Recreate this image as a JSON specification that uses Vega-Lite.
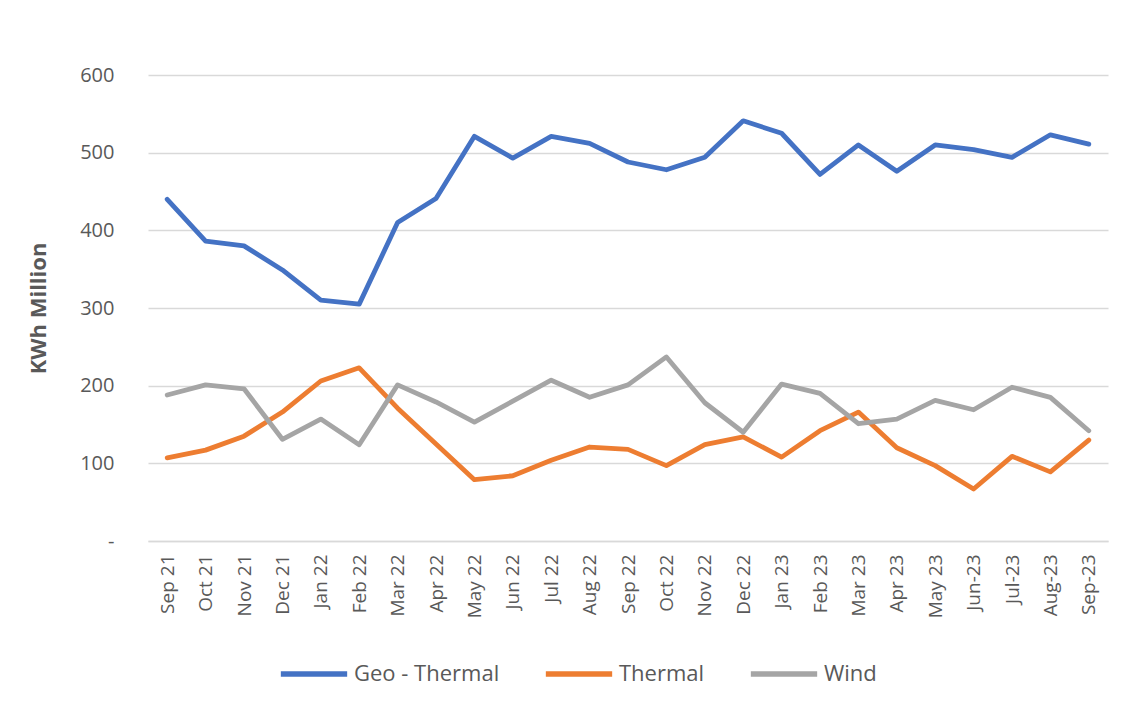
{
  "$schema": "https://vega.github.io/schema/vega-lite/v6.json",
  "autosize": {"type": "none"},
  "width": 960,
  "height": 466,
  "padding": {"left": 148, "top": 75, "right": 22, "bottom": 166},
  "background": "white",
  "data": {"values": [
    {"m":"Sep 21","s":"Geo - Thermal","v":440},{"m":"Oct 21","s":"Geo - Thermal","v":386},{"m":"Nov 21","s":"Geo - Thermal","v":380},{"m":"Dec 21","s":"Geo - Thermal","v":349},{"m":"Jan 22","s":"Geo - Thermal","v":310},{"m":"Feb 22","s":"Geo - Thermal","v":305},{"m":"Mar 22","s":"Geo - Thermal","v":410},{"m":"Apr 22","s":"Geo - Thermal","v":441},{"m":"May 22","s":"Geo - Thermal","v":521},{"m":"Jun 22","s":"Geo - Thermal","v":493},{"m":"Jul 22","s":"Geo - Thermal","v":521},{"m":"Aug 22","s":"Geo - Thermal","v":512},{"m":"Sep 22","s":"Geo - Thermal","v":488},{"m":"Oct 22","s":"Geo - Thermal","v":478},{"m":"Nov 22","s":"Geo - Thermal","v":494},{"m":"Dec 22","s":"Geo - Thermal","v":541},{"m":"Jan 23","s":"Geo - Thermal","v":525},{"m":"Feb 23","s":"Geo - Thermal","v":472},{"m":"Mar 23","s":"Geo - Thermal","v":510},{"m":"Apr 23","s":"Geo - Thermal","v":476},{"m":"May 23","s":"Geo - Thermal","v":510},{"m":"Jun-23","s":"Geo - Thermal","v":504},{"m":"Jul-23","s":"Geo - Thermal","v":494},{"m":"Aug-23","s":"Geo - Thermal","v":523},{"m":"Sep-23","s":"Geo - Thermal","v":511},
    {"m":"Sep 21","s":"Thermal","v":107},{"m":"Oct 21","s":"Thermal","v":117},{"m":"Nov 21","s":"Thermal","v":135},{"m":"Dec 21","s":"Thermal","v":166},{"m":"Jan 22","s":"Thermal","v":206},{"m":"Feb 22","s":"Thermal","v":223},{"m":"Mar 22","s":"Thermal","v":171},{"m":"Apr 22","s":"Thermal","v":125},{"m":"May 22","s":"Thermal","v":79},{"m":"Jun 22","s":"Thermal","v":84},{"m":"Jul 22","s":"Thermal","v":104},{"m":"Aug 22","s":"Thermal","v":121},{"m":"Sep 22","s":"Thermal","v":118},{"m":"Oct 22","s":"Thermal","v":97},{"m":"Nov 22","s":"Thermal","v":124},{"m":"Dec 22","s":"Thermal","v":134},{"m":"Jan 23","s":"Thermal","v":108},{"m":"Feb 23","s":"Thermal","v":142},{"m":"Mar 23","s":"Thermal","v":166},{"m":"Apr 23","s":"Thermal","v":120},{"m":"May 23","s":"Thermal","v":97},{"m":"Jun-23","s":"Thermal","v":67},{"m":"Jul-23","s":"Thermal","v":109},{"m":"Aug-23","s":"Thermal","v":89},{"m":"Sep-23","s":"Thermal","v":130},
    {"m":"Sep 21","s":"Wind","v":188},{"m":"Oct 21","s":"Wind","v":201},{"m":"Nov 21","s":"Wind","v":196},{"m":"Dec 21","s":"Wind","v":131},{"m":"Jan 22","s":"Wind","v":157},{"m":"Feb 22","s":"Wind","v":124},{"m":"Mar 22","s":"Wind","v":201},{"m":"Apr 22","s":"Wind","v":179},{"m":"May 22","s":"Wind","v":153},{"m":"Jun 22","s":"Wind","v":180},{"m":"Jul 22","s":"Wind","v":207},{"m":"Aug 22","s":"Wind","v":185},{"m":"Sep 22","s":"Wind","v":201},{"m":"Oct 22","s":"Wind","v":237},{"m":"Nov 22","s":"Wind","v":178},{"m":"Dec 22","s":"Wind","v":140},{"m":"Jan 23","s":"Wind","v":202},{"m":"Feb 23","s":"Wind","v":190},{"m":"Mar 23","s":"Wind","v":151},{"m":"Apr 23","s":"Wind","v":157},{"m":"May 23","s":"Wind","v":181},{"m":"Jun-23","s":"Wind","v":169},{"m":"Jul-23","s":"Wind","v":198},{"m":"Aug-23","s":"Wind","v":185},{"m":"Sep-23","s":"Wind","v":142}
  ]},
  "mark": {"type": "line", "strokeWidth": 4.8, "strokeCap": "round", "strokeJoin": "round"},
  "encoding": {
    "x": {
      "field": "m", "type": "ordinal", "sort": null,
      "scale": {"type": "point", "padding": 0.5},
      "axis": {
        "title": null, "labelAngle": 270, "labelFont": "Open Sans", "labelFontSize": 19,
        "labelColor": "#595959", "labelPadding": 13, "ticks": false,
        "domainColor": "#D9D9D9", "domainWidth": 1.5, "grid": false
      }
    },
    "y": {
      "field": "v", "type": "quantitative",
      "scale": {"domain": [0, 600], "nice": false},
      "axis": {
        "title": "KWh Million", "titleFont": "Open Sans", "titleFontSize": 22, "titleFontWeight": "bold",
        "titleColor": "#595959", "titleX": -110, "titleY": 233, "titleAngle": 270, "titleAlign": "center", "titleBaseline": "middle",
        "values": [0, 100, 200, 300, 400, 500, 600],
        "labelExpr": "datum.value == 0 ? '-' : datum.label",
        "labelFont": "Open Sans", "labelFontSize": 20, "labelColor": "#595959", "labelPadding": 34,
        "ticks": false, "domain": false,
        "gridColor": "#D9D9D9", "gridWidth": 1.5
      }
    },
    "color": {
      "field": "s", "type": "nominal",
      "scale": {"domain": ["Geo - Thermal", "Thermal", "Wind"], "range": ["#4472C4", "#ED7D31", "#A5A5A5"]},
      "legend": {
        "title": null, "orient": "none", "direction": "horizontal", "legendX": 130, "legendY": 563,
        "symbolType": "stroke", "symbolSize": 4400, "symbolStrokeWidth": 5.5,
        "labelFont": "Open Sans", "labelFontSize": 22, "labelColor": "#595959",
        "labelOffset": 4, "columnPadding": 34, "labelLimit": 300
      }
    }
  },
  "config": {"view": {"stroke": null}}
}
